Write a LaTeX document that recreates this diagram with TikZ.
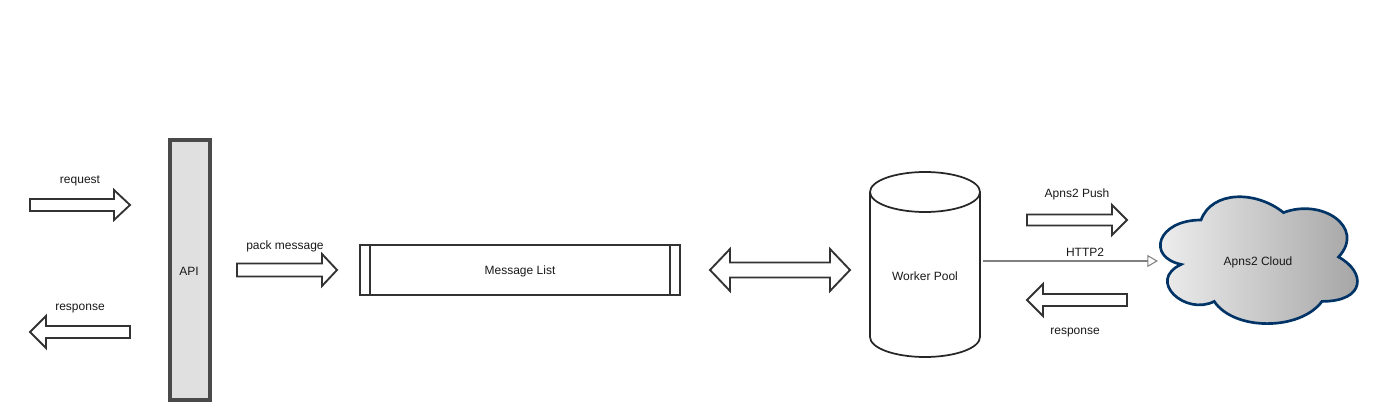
\documentclass[tikz,border=0pt]{standalone}
\usepackage{fontspec}
\setmainfont{Liberation Sans}
\usetikzlibrary{arrows.meta}
\definecolor{ink}{HTML}{333333}
\definecolor{apigray}{HTML}{E0E0E0}
\definecolor{apiedge}{HTML}{4A4A4A}
\definecolor{cloudedge}{HTML}{003366}
\definecolor{cloudlight}{HTML}{F2F2F2}
\definecolor{clouddark}{HTML}{A3A3A3}
\newcommand\blkRight[6]{% tail x, head-back x, tip x, centre y, half body, half head
  \draw[blk] (#1,#4-#5) -- (#2,#4-#5) -- (#2,#4-#6) -- (#3,#4) -- (#2,#4+#6) -- (#2,#4+#5) -- (#1,#4+#5) -- cycle;}
\newcommand\blkLeft[6]{% tip x, head-back x, tail x, centre y, half body, half head
  \draw[blk] (#3,#4-#5) -- (#2,#4-#5) -- (#2,#4-#6) -- (#1,#4) -- (#2,#4+#6) -- (#2,#4+#5) -- (#3,#4+#5) -- cycle;}
\begin{document}
\begin{tikzpicture}[x=0.75pt,y=-0.75pt,
  font=\fontsize{9}{11}\selectfont,
  blk/.style={draw=ink, line width=1.4pt, fill=white, line join=miter},
  lbl/.style={inner sep=0pt, text=black!90}]
\useasboundingbox (0,0) rectangle (1380,420);

% left side block arrows
\blkRight{30}{114}{130}{205}{6}{15}
\node[lbl] (reqlbl) at (80,181) {request};
\blkLeft{30}{46}{130}{332}{6}{16}
\node[lbl] (resplbl) at (80,309) {response};

% API
\draw[draw=apiedge, fill=apigray, line width=2.3pt] (170,140) rectangle (210,400);
\node[lbl] (api) at (189,271) {API};

% pack message
\blkRight{237}{322}{337}{270}{6.5}{16}
\node[lbl] (packlbl) at (285,246) {pack message};

% Message List
\draw[draw=ink, line width=1.4pt] (360,245) rectangle (680,295);
\draw[draw=ink, line width=1.4pt] (370,245) -- (370,295) (670,245) -- (670,295);
\node[lbl] (mlist) at (520,271) {Message List};

% double arrow
\draw[blk] (730,262.5) -- (830,262.5) -- (830,249) -- (850,270) -- (830,291) -- (830,277.5)
  -- (730,277.5) -- (730,291) -- (710,270) -- (730,249) -- cycle;

% Worker Pool cylinder
\draw[draw=black!85, line width=1.3pt, fill=white]
  (870,192) -- (870,337) arc[start angle=180,end angle=360,x radius=41.25pt,y radius=15pt]
  -- (980,192) arc[start angle=0,end angle=180,x radius=41.25pt,y radius=15pt] -- cycle;
\draw[draw=black!85, line width=1.3pt]
  (870,192) arc[start angle=180,end angle=360,x radius=41.25pt,y radius=15pt];
\node[lbl] (pool) at (925,276) {Worker Pool};

% right side arrows
\blkRight{1027}{1112}{1127}{220}{5.5}{15}
\node[lbl] (pushlbl) at (1077,194) {Apns2 Push};
\blkLeft{1027}{1043}{1127}{300}{6}{16}
\node[lbl] (resp2lbl) at (1075,333) {response};

% HTTP2 connector
\coordinate (h1) at (983,261);
\coordinate (h2) at (1158,261);
\draw[draw=black!50, line width=0.8pt, -{Triangle[open,length=8pt,width=9pt]}] (h1) -- (h2);
\node[lbl] (httplbl) at (1085,252) {HTTP2};

% cloud
\begin{scope}[shift={(1146,183)}, x=165pt, y=-111pt]
\draw[draw=cloudedge, line width=2pt, left color=cloudlight, right color=clouddark]
  (0.25,0.25) .. controls (0.05,0.25) and (0,0.5) .. (0.16,0.55)
  .. controls (0,0.66) and (0.18,0.9) .. (0.31,0.8)
  .. controls (0.4,1) and (0.7,1) .. (0.8,0.8)
  .. controls (1,0.8) and (1,0.6) .. (0.875,0.5)
  .. controls (1,0.3) and (0.8,0.1) .. (0.625,0.2)
  .. controls (0.5,0.05) and (0.3,0.05) .. (0.25,0.25) -- cycle;
\end{scope}
\node[lbl] (cloud) at (1258,262) {Apns2 Cloud};
\end{tikzpicture}
\end{document}
